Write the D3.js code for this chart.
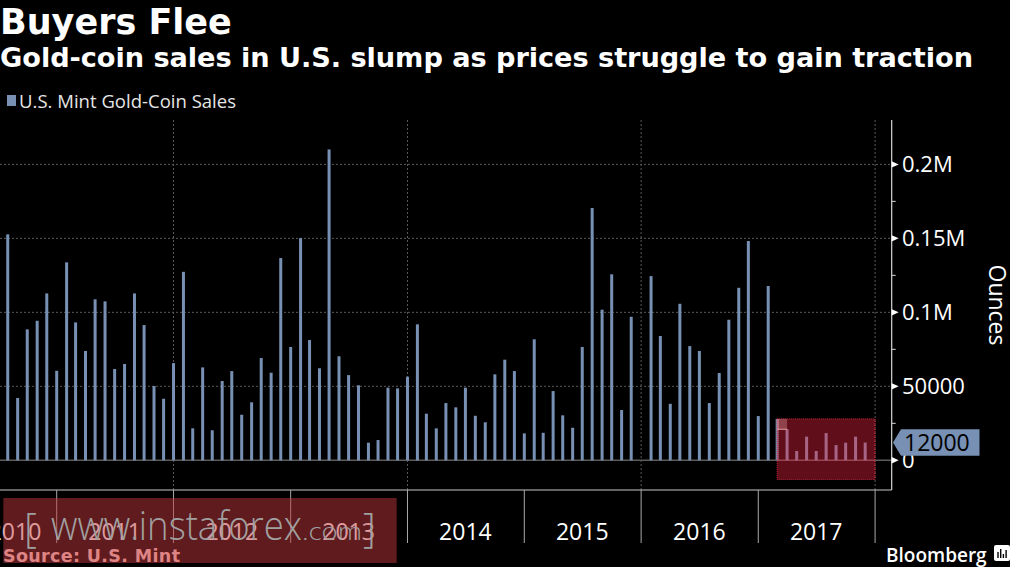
<!DOCTYPE html>
<html><head><meta charset="utf-8">
<script src="https://cdn.jsdelivr.net/npm/d3@7"></script>
<style>body{margin:0;background:#000;overflow:hidden}svg{display:block}</style>
</head><body>
<svg id="c" width="1010" height="567"></svg>
<script>
// ---------- data ----------
const startMonth = "2010-08";
const sales2010 = [152700, 42100, 88500, 94300, 112800];
const sales2011 = [60500, 133800, 93200, 73900, 108800, 107400, 61700, 65100, 112800, 91400, 50200, 41600];
const sales2012 = [65700, 127400, 21600, 62800, 20300, 53600, 60300, 30800, 39200, 69100, 59200, 136700];
const sales2013 = [76600, 150200, 81300, 62200, 210100, 70300, 57600, 50700, 11900, 13700, 49100, 48600];
const sales2014 = [56500, 91900, 31500, 21600, 38700, 35800, 49100, 30100, 25700, 58100, 68000, 60300];
const sales2015 = [18200, 81800, 18600, 46800, 30400, 22000, 76600, 170500, 101800, 125700, 34000, 97000];
const sales2016 = [0, 124500, 84000, 38200, 105800, 77200, 73900, 38700, 59000, 95000, 116600, 148200];
const sales2017 = [29900, 117800, 28000, 21000, 6300, 16000, 6300, 18400, 10300, 11900, 16000, 12000];
const sales = [].concat(sales2010, sales2011, sales2012, sales2013, sales2014, sales2015, sales2016, sales2017);

const years = [2010, 2011, 2012, 2013, 2014, 2015, 2016, 2017];
const yTickValues = [0, 50000, 100000, 150000, 200000];
const yTickLabels = ["0", "50000", "0.1M", "0.15M", "0.2M"];
const yMinorTicks = [25000, 75000, 125000, 175000];
const gridYears = [2012, 2014, 2016, 2018];
const lastValue = 12000;
const lastValueLabel = "12000";
const highlightStart = "2017-03";

// ---------- setup ----------
const svg = d3.select("#c");
svg.append("rect").attr("width", 1010).attr("height", 567).attr("fill", "#000");

const parseM = d3.utcParse("%Y-%m");
const start = parseM(startMonth);
const dates = sales.map((v, i) => d3.utcMonth.offset(start, i));

const plotL = 0, plotR = 891.7, plotT = 120, plotB = 490;
const x = d3.scaleUtc()
  .domain([new Date(Date.UTC(2011, 0, 1)), new Date(Date.UTC(2018, 0, 1))])
  .range([56.7, 875.1]);
const y = d3.scaleLinear().domain([-20000, 230000]).range([489.9, 120]);

const barColor = "#7790b3";

// ---------- titles ----------
svg.append("text").attr("x", 0).attr("y", 34)
  .attr("font-family", "DejaVu Sans").attr("font-weight", "bold").attr("font-size", 35)
  .attr("fill", "#fff").text("Buyers Flee");
svg.append("text").attr("x", 0).attr("y", 67)
  .attr("font-family", "DejaVu Sans").attr("font-weight", "bold").attr("font-size", 27.2)
  .attr("textLength", 973).attr("lengthAdjust", "spacing")
  .attr("fill", "#fff").text("Gold-coin sales in U.S. slump as prices struggle to gain traction");

// legend
svg.append("rect").attr("x", 7).attr("y", 95).attr("width", 9).attr("height", 11).attr("fill", barColor);
svg.append("text").attr("x", 19).attr("y", 108)
  .attr("font-family", "Open Sans").attr("font-size", 18.5).attr("fill", "#e6e6e6")
  .attr("textLength", 217).attr("lengthAdjust", "spacing")
  .text("U.S. Mint Gold-Coin Sales");

// ---------- grid ----------
const grid = svg.append("g");
grid.selectAll("line.h").data(yTickValues.filter(d => d > 0)).join("line")
  .attr("x1", plotL).attr("x2", plotR).attr("y1", d => y(d)).attr("y2", d => y(d))
  .attr("stroke", "#5a5a5a").attr("stroke-width", 1).attr("stroke-dasharray", "2,2");
grid.selectAll("line.v").data(gridYears).join("line")
  .attr("x1", d => x(new Date(Date.UTC(d, 0, 1)))).attr("x2", d => x(new Date(Date.UTC(d, 0, 1))))
  .attr("y1", plotT).attr("y2", plotB)
  .attr("stroke", "#5a5a5a").attr("stroke-width", 1).attr("stroke-dasharray", "2,2");

// baseline
svg.append("line").attr("x1", plotL).attr("x2", plotR).attr("y1", y(0)).attr("y2", y(0))
  .attr("stroke", "#5c5c5c").attr("stroke-width", 1.5);

// ---------- bars ----------
svg.append("g").selectAll("rect").data(sales).join("rect")
  .attr("x", (d, i) => x(dates[i]) - 1.5)
  .attr("width", 3)
  .attr("y", d => y(d))
  .attr("height", d => y(0) - y(d))
  .attr("fill", barColor);

// ---------- highlight box ----------
const hs = parseM(highlightStart);
const hx0 = x(hs), hx1 = x(new Date(Date.UTC(2018, 0, 1)));
const hiIdx = dates.findIndex(d => +d === +hs);
svg.append("rect").attr("x", hx0).attr("y", y(sales[hiIdx])).attr("width", hx1 - hx0)
  .attr("height", y(-13000) - y(sales[hiIdx]))
  .attr("fill", "rgb(240,35,65)").attr("fill-opacity", 0.4)
  .attr("stroke", "#c0283c").attr("stroke-width", 1).attr("stroke-dasharray", "1,1");
const hxn = x(dates[hiIdx + 1]);
svg.append("rect").attr("x", hx0).attr("y", y(sales[hiIdx])).attr("width", hxn - hx0)
  .attr("height", y(sales[hiIdx + 1]) - y(sales[hiIdx]))
  .attr("fill", "rgb(255,190,190)").attr("fill-opacity", 0.3);
svg.append("line").attr("x1", hx0).attr("x2", hxn).attr("y1", y(sales[hiIdx + 1])).attr("y2", y(sales[hiIdx + 1]))
  .attr("stroke", "#e6a0a0").attr("stroke-width", 1);

// ---------- axes frame ----------
svg.append("line").attr("x1", plotL).attr("x2", plotR).attr("y1", plotB).attr("y2", plotB)
  .attr("stroke", "#c8c8c8").attr("stroke-width", 1.2);
svg.append("line").attr("x1", plotR).attr("x2", plotR).attr("y1", plotT).attr("y2", plotB)
  .attr("stroke", "#d8d8d8").attr("stroke-width", 1.2);

// year separator ticks
const yearBounds = d3.range(2011, 2019);
svg.append("g").selectAll("line").data(yearBounds).join("line")
  .attr("x1", d => x(new Date(Date.UTC(d, 0, 1)))).attr("x2", d => x(new Date(Date.UTC(d, 0, 1))))
  .attr("y1", plotB).attr("y2", 543)
  .attr("stroke", "#a8a8a8").attr("stroke-width", 1);

// year labels (first one is clipped at the left edge, as in the original)
svg.append("g").selectAll("text").data(years).join("text")
  .attr("x", d => Math.max(15, x(new Date(Date.UTC(d, 6, 1)))))
  .attr("y", 540)
  .attr("text-anchor", "middle")
  .attr("font-family", "Open Sans").attr("font-size", 23).attr("fill", "#fff")
  .text(d => d);

// y ticks
const yt = svg.append("g");
yt.selectAll("path").data(yTickValues).join("path")
  .attr("d", d => `M${plotR},${y(d) - 3.2}L${plotR + 7},${y(d)}L${plotR},${y(d) + 3.2}Z`)
  .attr("fill", "#fff");
yt.selectAll("line").data(yMinorTicks).join("line")
  .attr("x1", plotR).attr("x2", plotR + 4).attr("y1", d => y(d)).attr("y2", d => y(d))
  .attr("stroke", "#d8d8d8").attr("stroke-width", 1);
yt.selectAll("text").data(yTickValues).join("text")
  .attr("x", 902).attr("y", d => y(d) + 8)
  .attr("font-family", "Open Sans").attr("font-size", 22).attr("fill", "#fff")
  .text((d, i) => yTickLabels[i]);

// axis title
svg.append("text")
  .attr("transform", "translate(989,305) rotate(90)")
  .attr("text-anchor", "middle")
  .attr("font-family", "Open Sans").attr("font-size", 23).attr("fill", "#fff")
  .text("Ounces");

// last value tag
const ty = y(lastValue);
svg.append("path")
  .attr("d", `M893,${ty}L901,${ty - 13.3}L979.5,${ty - 13.3}L979.5,${ty + 13.3}L901,${ty + 13.3}Z`)
  .attr("fill", barColor);
svg.append("text").attr("x", 904).attr("y", ty + 8.5)
  .attr("font-family", "Open Sans").attr("font-size", 23).attr("fill", "#000")
  .text(lastValueLabel);

// source + Bloomberg
svg.append("text").attr("x", 3).attr("y", 562)
  .attr("font-family", "DejaVu Sans").attr("font-weight", "bold").attr("font-size", 17.5)
  .attr("textLength", 177).attr("lengthAdjust", "spacing")
  .attr("fill", "#ffd2cc").text("Source: U.S. Mint");
svg.append("text").attr("x", 886).attr("y", 562)
  .attr("font-family", "Open Sans").attr("font-weight", 600).attr("font-size", 19)
  .attr("fill", "#fff").text("Bloomberg");
const logo = svg.append("g").attr("transform", "translate(994,545)");
logo.append("rect").attr("width", 16).attr("height", 16).attr("rx", 2).attr("fill", "#fff");
logo.selectAll("line").data([6, 9, 4, 8]).join("line")
  .attr("x1", (d, i) => 4 + i * 2.7).attr("x2", (d, i) => 4 + i * 2.7)
  .attr("y1", 13).attr("y2", d => 13 - d)
  .attr("stroke", "#000").attr("stroke-width", 1.4);

// ---------- watermark ----------
svg.append("rect").attr("x", 3.3).attr("y", 498).attr("width", 393.4).attr("height", 65)
  .attr("fill", "rgb(190,54,60)").attr("fill-opacity", 0.5);
const wm = svg.append("g").attr("fill", "#a0a0a0").attr("font-family", "Open Sans").attr("font-weight", 300);
wm.append("text").attr("x", 24).attr("y", 542).attr("font-size", 40).text("[");
wm.append("text").attr("x", 51).attr("y", 540).attr("font-size", 40)
  .attr("textLength", 251).attr("lengthAdjust", "spacingAndGlyphs").text("www.instaforex");
wm.append("text").attr("x", 302).attr("y", 540).attr("font-size", 24)
  .attr("textLength", 60).attr("lengthAdjust", "spacingAndGlyphs").text(".com");
wm.append("text").attr("x", 363).attr("y", 542).attr("font-size", 40).text("]");
</script>
</body></html>
